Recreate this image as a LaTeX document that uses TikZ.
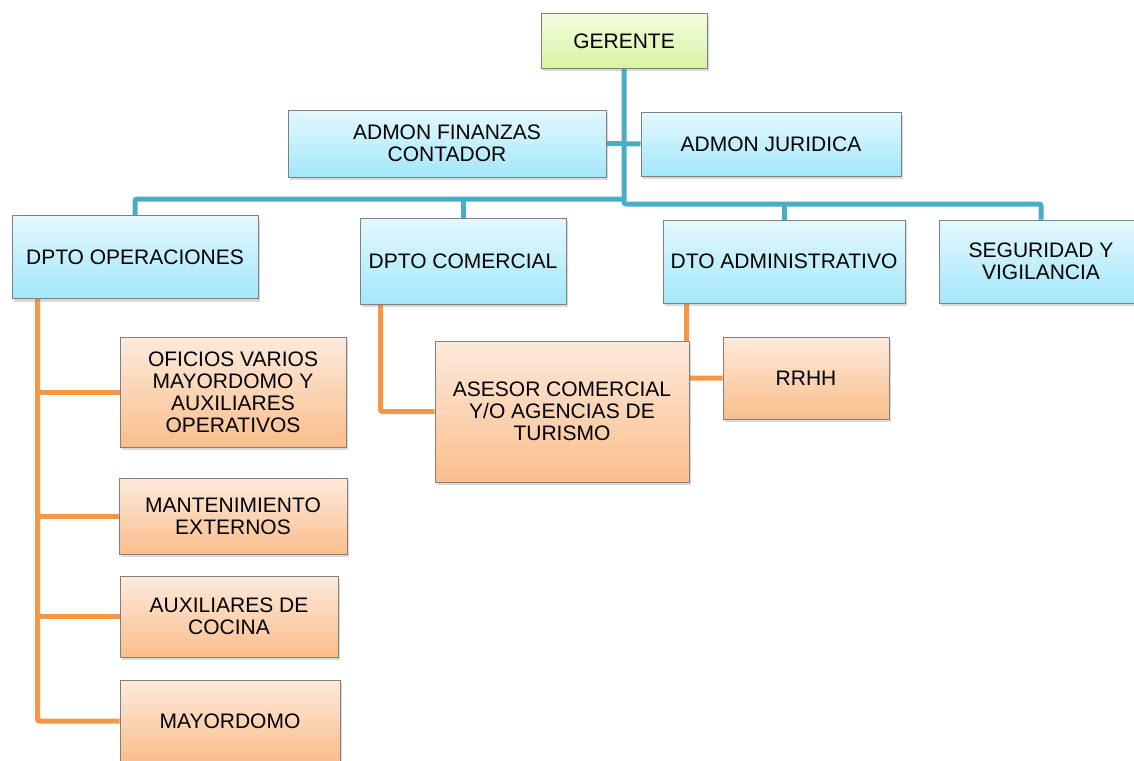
\documentclass[tikz,border=0pt]{standalone}
\usepackage{fontspec}
\setmainfont{Liberation Sans}
\usepackage{tikz}
\usetikzlibrary{shadows,backgrounds}
\definecolor{lineBlue}{RGB}{75,172,198}
\definecolor{lineOrange}{RGB}{247,150,70}
\definecolor{blueTop}{RGB}{228,248,254}
\definecolor{blueBottom}{RGB}{163,231,250}
\definecolor{orangeTop}{RGB}{253,234,220}
\definecolor{orangeBottom}{RGB}{250,190,140}
\definecolor{greenTop}{RGB}{244,252,224}
\definecolor{greenBottom}{RGB}{214,245,162}
\definecolor{boxGray}{RGB}{128,128,128}

\begin{document}
\begin{tikzpicture}[x=1pt, y=-1pt,
		box/.style={rectangle, draw=boxGray, line width=1pt, align=center, inner sep=2pt,
			font=\fontsize{21}{22}\selectfont,
			drop shadow={opacity=0.3, shadow xshift=1.5pt, shadow yshift=-3pt}},
		bluebox/.style={box, top color=blueTop, bottom color=blueBottom},
		orangebox/.style={box, top color=orangeTop, bottom color=orangeBottom},
		greenbox/.style={box, top color=greenTop, bottom color=greenBottom},
		blueline/.style={draw=lineBlue, line width=5pt, rounded corners=2pt},
		orangeline/.style={draw=lineOrange, line width=5pt, rounded corners=2pt}]
		\useasboundingbox (0,0) rectangle (1134,760);

		% Top
		\node (ger) at (624,41) [greenbox, minimum width=166, minimum height=54] {GERENTE};

		% Staff
		\begin{scope}[every node/.style={bluebox}]
			\node (fin) at (447,143.5) [minimum width=318, minimum height=67] {ADMON FINANZAS\\CONTADOR};
			\node (jur) at (771,144) [minimum width=260, minimum height=64] {ADMON JURIDICA};
		\end{scope}

		% Departments
		\begin{scope}[every node/.style={bluebox, minimum height=83}]
			\node (ope) at (135,257) [minimum width=246] {DPTO OPERACIONES};
			\node (com) at (463,261) [minimum width=206, minimum height=86] {DPTO COMERCIAL};
			\node (adm) at (784,261.5) [minimum width=242] {DTO ADMINISTRATIVO};
			\node (seg) at (1041,261.5) [minimum width=204] {SEGURIDAD Y\\VIGILANCIA};
		\end{scope}

		% Sections
		\begin{scope}[every node/.style={orangebox}]
			\node (ofi) at (233,392) [minimum width=226, minimum height=110] {OFICIOS VARIOS\\MAYORDOMO Y\\AUXILIARES\\OPERATIVOS};
			\node (man) at (233,516) [minimum width=228, minimum height=76] {MANTENIMIENTO\\EXTERNOS};
			\node (aux) at (229,616.5) [minimum width=218, minimum height=81] {AUXILIARES DE\\COCINA};
			\node (may) at (230,721) [minimum width=220, minimum height=82] {MAYORDOMO};
			\node (ase) at (562,411.5) [minimum width=254, minimum height=141] {ASESOR COMERCIAL\\Y/O AGENCIAS DE\\TURISMO};
			\node (rrh) at (806,378) [minimum width=166, minimum height=82] {RRHH};
		\end{scope}

		% Connectors
		\begin{pgfonlayer}{background}
			\coordinate (busL) at (624,199);
			\coordinate (busR) at (624,204);
			\draw[blueline] (ger.south) -- (busR) -| (seg.north);
			\draw[blueline] (fin.east) -- (jur.west);
			\draw[blueline] (busL) -| (ope.north);
			\draw[blueline] (busL -| com.north) -- (com.north);
			\draw[blueline] (busR -| adm.north) -- (adm.north);

			\coordinate (opeX) at ([xshift=26pt]ope.south west);
			\draw[orangeline] (opeX) |- (may.west);
			\foreach \n in {ofi,man,aux}
				\draw[orangeline] (opeX |- \n.west) -- (\n.west);
			\draw[orangeline] ([xshift=21pt]com.south west) |- (ase.west);
			\draw[orangeline] ([xshift=24pt]adm.south west) |- (rrh.west);
		\end{pgfonlayer}
	\end{tikzpicture}
\end{document}
